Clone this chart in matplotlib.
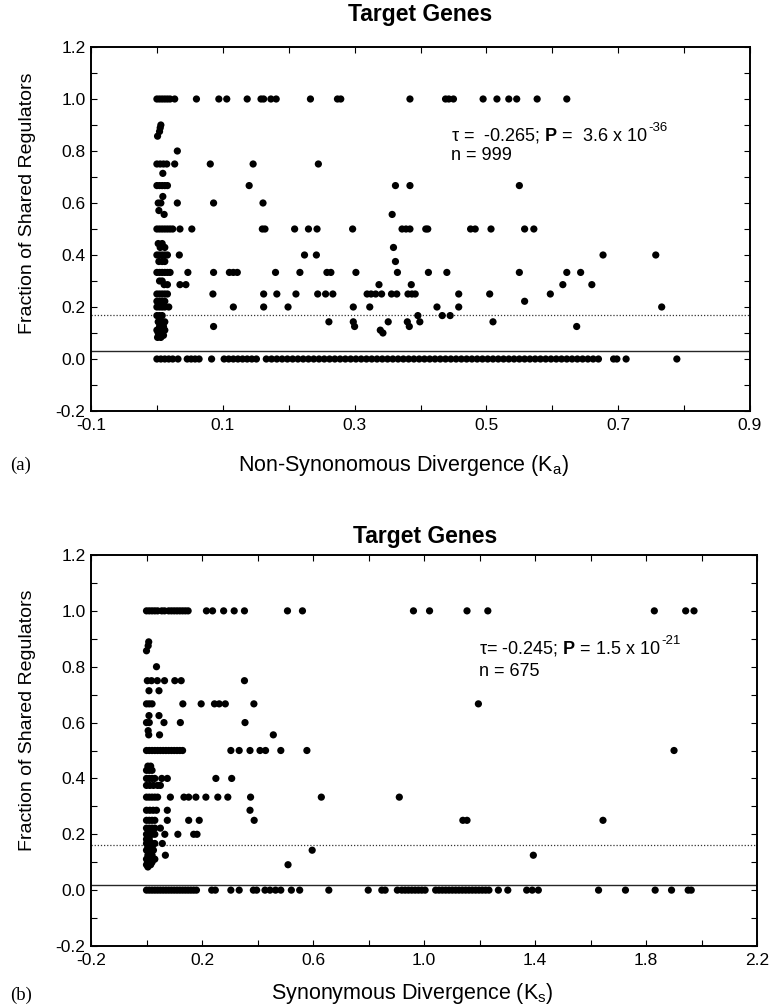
import matplotlib
matplotlib.use("Agg")
import matplotlib.pyplot as plt
from matplotlib.ticker import MultipleLocator, FormatStrFormatter

plt.rcParams['font.family'] = ['Liberation Sans', 'DejaVu Sans']
plt.rcParams['mathtext.fontset'] = 'custom'
plt.rcParams['mathtext.rm'] = 'Liberation Sans'
plt.rcParams['mathtext.it'] = 'Liberation Sans:italic'
plt.rcParams['mathtext.bf'] = 'Liberation Sans:bold'
plt.rcParams['axes.unicode_minus'] = False

# ---------------- Panel (a): Ka ----------------
ka_levels = [1.0, 0.9, 0.889, 0.875, 0.857, 0.8, 0.75, 0.714, 0.667, 0.625, 0.6,
             0.571, 0.556, 0.5, 0.444, 0.429, 0.4, 0.375, 0.333, 0.3, 0.286,
             0.25, 0.222, 0.2, 0.167, 0.143, 0.125, 0.111, 0.1, 0.091, 0.083, 0.0]
ka_x_100 = [0.0, 0.004, 0.008, 0.012, 0.016, 0.020, 0.027, 0.060, 0.094, 0.106, 0.137,
            0.158, 0.162, 0.173, 0.181, 0.233, 0.274, 0.279, 0.384, 0.438, 0.443, 0.450,
            0.495, 0.516, 0.534, 0.546, 0.577, 0.622]
ka_x_090 = [0.006]
ka_x_089 = [0.005]
ka_x_088 = [0.004]
ka_x_086 = [0.001]
ka_x_080 = [0.031]
ka_x_075 = [0.0, 0.005, 0.010, 0.015, 0.027, 0.081, 0.146, 0.245]
ka_x_071 = [0.009]
ka_x_067 = [0.0, 0.004, 0.008, 0.012, 0.016, 0.140, 0.362, 0.384, 0.550]
ka_x_063 = [0.009]
ka_x_060 = [0.002, 0.006, 0.031, 0.086, 0.161]
ka_x_057 = [0.003]
ka_x_056 = [0.011, 0.357]
ka_x_050 = [0.0, 0.004, 0.008, 0.012, 0.016, 0.020, 0.024, 0.035, 0.053, 0.160, 0.164,
            0.209, 0.230, 0.243, 0.297, 0.372, 0.378, 0.384, 0.408, 0.411, 0.476, 0.483,
            0.507, 0.558, 0.572]
ka_x_044 = [0.002, 0.008]
ka_x_043 = [0.005, 0.012, 0.359]
ka_x_040 = [0.0, 0.004, 0.008, 0.012, 0.016, 0.034, 0.224, 0.242, 0.677, 0.757]
ka_x_038 = [0.003, 0.008, 0.012, 0.362]
ka_x_033 = [0.0, 0.004, 0.008, 0.012, 0.016, 0.020, 0.047, 0.086, 0.110, 0.116, 0.122,
            0.180, 0.217, 0.258, 0.264, 0.302, 0.365, 0.412, 0.440, 0.550, 0.622, 0.643]
ka_x_030 = [0.004, 0.008]
ka_x_029 = [0.011, 0.016, 0.035, 0.044, 0.337, 0.386, 0.616, 0.660]
ka_x_025 = [0.0, 0.004, 0.008, 0.012, 0.016, 0.085, 0.162, 0.182, 0.211, 0.244, 0.256,
            0.267, 0.319, 0.325, 0.332, 0.341, 0.356, 0.364, 0.381, 0.387, 0.392, 0.458,
            0.505, 0.597]
ka_x_022 = [0.0, 0.004, 0.008, 0.012, 0.558]
ka_x_020 = [0.0, 0.004, 0.008, 0.012, 0.018, 0.116, 0.162, 0.199, 0.298, 0.323, 0.425,
            0.458, 0.766]
ka_x_017 = [0.0, 0.004, 0.008, 0.396, 0.433, 0.445]
ka_x_014 = [0.002, 0.008, 0.012, 0.261, 0.298, 0.351, 0.380, 0.399, 0.510]
ka_x_013 = [0.004, 0.010, 0.086, 0.300, 0.383, 0.637]
ka_x_011 = [0.0, 0.006, 0.012, 0.339]
ka_x_010 = [0.002, 0.008, 0.343]
ka_x_009 = [0.004, 0.010]
ka_x_008 = [0.001, 0.006]
ka_x_000 = [0.0, 0.006, 0.012, 0.018, 0.024, 0.032, 0.046, 0.052, 0.058, 0.064, 0.083,
            0.102, 0.109, 0.116, 0.123, 0.130, 0.137, 0.144, 0.151,
            0.166, 0.174, 0.182, 0.190, 0.198, 0.206, 0.214, 0.222, 0.230, 0.238, 0.246,
            0.254, 0.262, 0.270, 0.278, 0.286, 0.294, 0.302, 0.310, 0.318, 0.326, 0.334,
            0.342, 0.350, 0.358, 0.366, 0.374, 0.382, 0.390, 0.398, 0.406, 0.414, 0.422,
            0.430, 0.438, 0.446, 0.454, 0.462, 0.470, 0.478, 0.486, 0.494, 0.502, 0.510,
            0.518, 0.526, 0.534, 0.542, 0.550, 0.558, 0.566, 0.574, 0.582, 0.590, 0.598,
            0.606, 0.614, 0.622, 0.630, 0.638, 0.646, 0.654, 0.662, 0.670,
            0.693, 0.698, 0.712, 0.789]
ka_groups = [ka_x_100, ka_x_090, ka_x_089, ka_x_088, ka_x_086, ka_x_080, ka_x_075, ka_x_071,
             ka_x_067, ka_x_063, ka_x_060, ka_x_057, ka_x_056, ka_x_050, ka_x_044, ka_x_043,
             ka_x_040, ka_x_038, ka_x_033, ka_x_030, ka_x_029, ka_x_025, ka_x_022, ka_x_020,
             ka_x_017, ka_x_014, ka_x_013, ka_x_011, ka_x_010, ka_x_009, ka_x_008, ka_x_000]
ka_solid = 0.03
ka_dotted = 0.168
ka_xticks = [-0.1, 0.1, 0.3, 0.5, 0.7, 0.9]

# ---------------- Panel (b): Ks ----------------
ks_levels = [1.0, 0.889, 0.875, 0.857, 0.8, 0.75, 0.714, 0.667, 0.625, 0.6, 0.571, 0.556,
             0.5, 0.444, 0.429, 0.4, 0.375, 0.333, 0.286, 0.25, 0.222, 0.2, 0.182, 0.167,
             0.154, 0.143, 0.125, 0.111, 0.1, 0.091, 0.083, 0.0]
ks_x_100 = [0.0, 0.01, 0.02, 0.03, 0.04, 0.055, 0.065, 0.08, 0.09, 0.10, 0.11, 0.12, 0.13,
            0.14, 0.15, 0.216, 0.238, 0.278, 0.316, 0.353, 0.508, 0.562, 0.962, 1.02,
            1.155, 1.23, 1.83, 1.943, 1.973]
ks_x_089 = [0.008]
ks_x_088 = [0.006]
ks_x_086 = [0.0]
ks_x_080 = [0.036]
ks_x_075 = [0.003, 0.018, 0.039, 0.065, 0.102, 0.125, 0.353]
ks_x_071 = [0.009, 0.045]
ks_x_067 = [0.0, 0.01, 0.02, 0.131, 0.197, 0.245, 0.262, 0.284, 0.387, 1.196]
ks_x_063 = [0.009, 0.045]
ks_x_060 = [0.0, 0.01, 0.063, 0.122, 0.355]
ks_x_057 = [0.006]
ks_x_056 = [0.008, 0.047, 0.457]
ks_x_050 = [0.0, 0.01, 0.02, 0.03, 0.04, 0.05, 0.06, 0.07, 0.08, 0.09, 0.10, 0.11, 0.12,
            0.13, 0.304, 0.334, 0.373, 0.409, 0.429, 0.484, 0.578, 1.901]
ks_x_044 = [0.005, 0.015]
ks_x_043 = [0.0, 0.01, 0.02]
ks_x_040 = [0.0, 0.01, 0.02, 0.03, 0.055, 0.075, 0.25, 0.307]
ks_x_038 = [0.0, 0.012, 0.025, 0.04, 0.05]
ks_x_033 = [0.0, 0.01, 0.02, 0.03, 0.04, 0.086, 0.135, 0.152, 0.178, 0.214, 0.257, 0.293,
            0.375, 0.63, 0.911]
ks_x_029 = [0.0, 0.012, 0.024, 0.036, 0.075, 0.373]
ks_x_025 = [0.0, 0.01, 0.02, 0.03, 0.075, 0.152, 0.19, 0.388, 1.14, 1.155, 1.645]
ks_x_022 = [0.0, 0.01, 0.02, 0.03, 0.05]
ks_x_020 = [0.0, 0.01, 0.02, 0.03, 0.066, 0.113, 0.17, 0.182]
ks_x_018 = [0.0, 0.01]
ks_x_017 = [0.0, 0.01, 0.02, 0.03, 0.057]
ks_x_015 = [0.005, 0.02]
ks_x_014 = [0.0, 0.012, 0.025, 0.597]
ks_x_013 = [0.005, 0.02, 0.068, 1.394]
ks_x_011 = [0.0, 0.012, 0.03]
ks_x_010 = [0.005, 0.02]
ks_x_009 = [0.0, 0.015, 0.51]
ks_x_008 = [0.005]
ks_x_000 = [0.0, 0.01, 0.02, 0.03, 0.04, 0.05, 0.06, 0.07, 0.08, 0.09, 0.10, 0.11, 0.12,
            0.13, 0.14, 0.15, 0.16, 0.17, 0.18, 0.235, 0.248, 0.304, 0.334, 0.385, 0.397,
            0.427, 0.445, 0.465, 0.484, 0.522, 0.552, 0.657, 0.799, 0.848, 0.86, 0.904,
            0.92, 0.932, 0.944, 0.956, 0.968, 0.98, 0.992, 1.004,
            1.042, 1.054, 1.066, 1.078, 1.090, 1.102, 1.114, 1.126, 1.138, 1.150, 1.162,
            1.174, 1.186, 1.198, 1.210, 1.222, 1.234, 1.268, 1.302, 1.37, 1.39, 1.412,
            1.629, 1.726, 1.833, 1.892, 1.952, 1.963]
ks_groups = [ks_x_100, ks_x_089, ks_x_088, ks_x_086, ks_x_080, ks_x_075, ks_x_071, ks_x_067,
             ks_x_063, ks_x_060, ks_x_057, ks_x_056, ks_x_050, ks_x_044, ks_x_043, ks_x_040,
             ks_x_038, ks_x_033, ks_x_029, ks_x_025, ks_x_022, ks_x_020, ks_x_018, ks_x_017,
             ks_x_015, ks_x_014, ks_x_013, ks_x_011, ks_x_010, ks_x_009, ks_x_008, ks_x_000]
ks_solid = 0.02
ks_dotted = 0.162
ks_xticks = [-0.2, 0.2, 0.6, 1.0, 1.4, 1.8, 2.2]

W, H = 773, 1007
fig = plt.figure(figsize=(W / 100, H / 100), dpi=100)


def px_rect(l, t, r, b):
    return [l / W, 1 - b / H, (r - l) / W, (b - t) / H]


def style_axes(ax, xlim, xticks, xminor):
    ax.set_xlim(*xlim)
    ax.set_ylim(-0.2, 1.2)
    ax.set_xticks(xticks)
    ax.xaxis.set_minor_locator(MultipleLocator(xminor))
    ax.yaxis.set_major_locator(MultipleLocator(0.2))
    ax.yaxis.set_minor_locator(MultipleLocator(0.1))
    ax.xaxis.set_major_formatter(FormatStrFormatter('%.1f'))
    ax.yaxis.set_major_formatter(FormatStrFormatter('%.1f'))
    ax.tick_params(which='both', direction='in', top=True, right=True,
                   length=4, width=0.8, labelsize=12.5, color='black')
    ax.tick_params(axis='x', pad=5)
    ax.tick_params(axis='y', pad=4)
    for s in ax.spines.values():
        s.set_linewidth(1.4)


def draw_points(ax, levels, groups):
    xs, ys = [], []
    for lv, g in zip(levels, groups):
        xs.extend(g)
        ys.extend([lv] * len(g))
    ax.scatter(xs, ys, s=27, c='black', edgecolors='none', zorder=3)


def stat_text(ax, x, y, main, sup, n_text, dy):
    t = ax.text(x, y, main, fontsize=13, va='center', ha='left')
    ax.annotate(sup, xy=(1, 1), xycoords=t, xytext=(0.5, -1.5),
                textcoords='offset points', fontsize=9.5, va='center', ha='left')
    ax.text(x, y - dy, n_text, fontsize=13, va='center', ha='left')


# top panel
ax1 = fig.add_axes(px_rect(91, 47, 750, 411))
style_axes(ax1, (-0.1, 0.9), ka_xticks, 0.1)
draw_points(ax1, ka_levels, ka_groups)
ax1.axhline(ka_solid, color='0.15', lw=1.0, zorder=2)
ax1.axhline(ka_dotted, color='0.2', lw=0.9, ls=(0, (1, 1.5)), zorder=2)
stat_text(ax1, 0.446, 0.86, "τ =  -0.265; $\\mathbf{P}$ =  3.6 x 10", "-36", "n = 999", 0.077)

# bottom panel
ax2 = fig.add_axes(px_rect(91, 555, 757, 946))
style_axes(ax2, (-0.2, 2.2), ks_xticks, 0.2)
draw_points(ax2, ks_levels, ks_groups)
ax2.axhline(ks_solid, color='0.15', lw=1.0, zorder=2)
ax2.axhline(ks_dotted, color='0.2', lw=0.9, ls=(0, (1, 1.5)), zorder=2)
stat_text(ax2, 1.197, 0.866, "τ= -0.245; $\\mathbf{P}$ = 1.5 x 10", "-21", "n = 675", 0.083)

# titles and labels
fig.text(420 / W, 1 - 15 / H, "Target Genes", fontsize=16.5, fontweight='bold',
         ha='center', va='center')
fig.text(425 / W, 1 - 537 / H, "Target Genes", fontsize=16.5, fontweight='bold',
         ha='center', va='center')
fig.text(404 / W, 1 - 466 / H, "Non-Synonomous Divergence ($\\mathrm{K}_{\\mathrm{a}}$)",
         fontsize=15.5, ha='center', va='center')
fig.text(412 / W, 1 - 994 / H, "Synonymous Divergence ($\\mathrm{K}_{\\mathrm{s}}$)",
         fontsize=15.5, ha='center', va='center')
fig.text(28 / W, 1 - 203 / H, "Fraction of Shared Regulators", fontsize=14,
         rotation=90, ha='center', va='center')
fig.text(28 / W, 1 - 720 / H, "Fraction of Shared Regulators", fontsize=14,
         rotation=90, ha='center', va='center')
fig.text(21 / W, 1 - 465 / H, "(a)", fontsize=13.5, family='Liberation Serif',
         ha='center', va='center')
fig.text(21 / W, 1 - 995 / H, "(b)", fontsize=13.5, family='Liberation Serif',
         ha='center', va='center')

fig.savefig("out.png", dpi=100)
